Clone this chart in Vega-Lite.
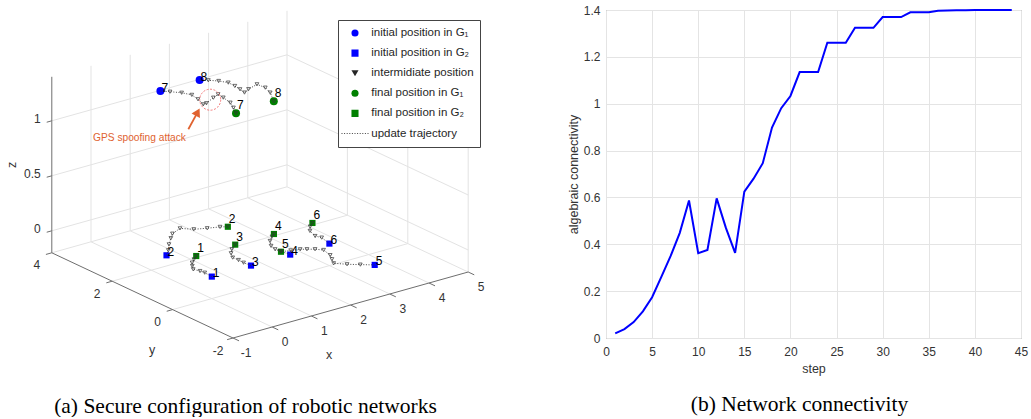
{
  "$schema": "https://vega.github.io/schema/vega-lite/v6.json",
  "padding": {"left": 0, "top": 3, "right": 0, "bottom": 0},
  "bounds": "flush",
  "spacing": 86,
  "config": {
    "font": "Liberation Sans",
    "axis": {"labelFont": "Liberation Sans", "titleFont": "Liberation Sans", "labelFontSize": 12, "titleFontSize": 12.5, "labelColor": "#333333", "titleColor": "#333333", "titleFontWeight": "normal", "gridColor": "#e4e4e4", "gridWidth": 1, "domain": false, "ticks": false, "labelFlush": false, "labelOverlap": false},
    "title": {"font": "Liberation Serif", "fontSize": 21.5, "fontWeight": "normal", "color": "#000000"},
    "legend": {"labelFont": "Liberation Sans", "labelFontSize": 11.5, "labelColor": "#262626", "cornerRadius": 0, "rowPadding": 6.1, "clipHeight": 14, "labelLimit": 200},
    "view": {"stroke": null}
  },
  "datasets": {
    "grid": [
      {"x1":0,"y1":-2,"z1":-0.2,"x2":0,"y2":4,"z2":-0.2,"k":"g"},
      {"x1":1,"y1":-2,"z1":-0.2,"x2":1,"y2":4,"z2":-0.2,"k":"g"},
      {"x1":2,"y1":-2,"z1":-0.2,"x2":2,"y2":4,"z2":-0.2,"k":"g"},
      {"x1":3,"y1":-2,"z1":-0.2,"x2":3,"y2":4,"z2":-0.2,"k":"g"},
      {"x1":4,"y1":-2,"z1":-0.2,"x2":4,"y2":4,"z2":-0.2,"k":"g"},
      {"x1":5,"y1":-2,"z1":-0.2,"x2":5,"y2":4,"z2":-0.2,"k":"g"},
      {"x1":-1,"y1":0,"z1":-0.2,"x2":5,"y2":0,"z2":-0.2,"k":"g"},
      {"x1":-1,"y1":2,"z1":-0.2,"x2":5,"y2":2,"z2":-0.2,"k":"g"},
      {"x1":-1,"y1":4,"z1":-0.2,"x2":5,"y2":4,"z2":-0.2,"k":"g"},
      {"x1":0,"y1":4,"z1":-0.2,"x2":0,"y2":4,"z2":1.4,"k":"g"},
      {"x1":1,"y1":4,"z1":-0.2,"x2":1,"y2":4,"z2":1.4,"k":"g"},
      {"x1":2,"y1":4,"z1":-0.2,"x2":2,"y2":4,"z2":1.4,"k":"g"},
      {"x1":3,"y1":4,"z1":-0.2,"x2":3,"y2":4,"z2":1.4,"k":"g"},
      {"x1":4,"y1":4,"z1":-0.2,"x2":4,"y2":4,"z2":1.4,"k":"g"},
      {"x1":5,"y1":4,"z1":-0.2,"x2":5,"y2":4,"z2":1.4,"k":"g"},
      {"x1":-1,"y1":4,"z1":0,"x2":5,"y2":4,"z2":0,"k":"g"},
      {"x1":-1,"y1":4,"z1":0.5,"x2":5,"y2":4,"z2":0.5,"k":"g"},
      {"x1":-1,"y1":4,"z1":1,"x2":5,"y2":4,"z2":1,"k":"g"},
      {"x1":5,"y1":-2,"z1":-0.2,"x2":5,"y2":-2,"z2":1.4,"k":"g"},
      {"x1":5,"y1":0,"z1":-0.2,"x2":5,"y2":0,"z2":1.4,"k":"g"},
      {"x1":5,"y1":2,"z1":-0.2,"x2":5,"y2":2,"z2":1.4,"k":"g"},
      {"x1":5,"y1":-2,"z1":0,"x2":5,"y2":4,"z2":0,"k":"g"},
      {"x1":5,"y1":-2,"z1":0.5,"x2":5,"y2":4,"z2":0.5,"k":"g"},
      {"x1":5,"y1":-2,"z1":1,"x2":5,"y2":4,"z2":1,"k":"g"},
      {"x1":-1,"y1":-2,"z1":-0.2,"x2":-1,"y2":4,"z2":-0.2,"k":"a"},
      {"x1":-1,"y1":-2,"z1":-0.2,"x2":5,"y2":-2,"z2":-0.2,"k":"a"},
      {"x1":-1,"y1":4,"z1":-0.2,"x2":-1,"y2":4,"z2":1.4,"k":"a"},
      {"x1":-1,"y1":-2,"z1":-0.2,"x2":-1,"y2":-2.2,"z2":-0.2,"k":"a"},
      {"x1":0,"y1":-2,"z1":-0.2,"x2":0,"y2":-2.2,"z2":-0.2,"k":"a"},
      {"x1":1,"y1":-2,"z1":-0.2,"x2":1,"y2":-2.2,"z2":-0.2,"k":"a"},
      {"x1":2,"y1":-2,"z1":-0.2,"x2":2,"y2":-2.2,"z2":-0.2,"k":"a"},
      {"x1":3,"y1":-2,"z1":-0.2,"x2":3,"y2":-2.2,"z2":-0.2,"k":"a"},
      {"x1":4,"y1":-2,"z1":-0.2,"x2":4,"y2":-2.2,"z2":-0.2,"k":"a"},
      {"x1":5,"y1":-2,"z1":-0.2,"x2":5,"y2":-2.2,"z2":-0.2,"k":"a"},
      {"x1":-1,"y1":-2,"z1":-0.2,"x2":-1.15,"y2":-2,"z2":-0.2,"k":"a"},
      {"x1":-1,"y1":0,"z1":-0.2,"x2":-1.15,"y2":0,"z2":-0.2,"k":"a"},
      {"x1":-1,"y1":2,"z1":-0.2,"x2":-1.15,"y2":2,"z2":-0.2,"k":"a"},
      {"x1":-1,"y1":4,"z1":-0.2,"x2":-1.15,"y2":4,"z2":-0.2,"k":"a"},
      {"x1":-1,"y1":4,"z1":0,"x2":-1.13,"y2":4,"z2":0,"k":"a"},
      {"x1":-1,"y1":4,"z1":0.5,"x2":-1.13,"y2":4,"z2":0.5,"k":"a"},
      {"x1":-1,"y1":4,"z1":1,"x2":-1.13,"y2":4,"z2":1,"k":"a"}
    ],
    "lab": [
      {"t":"-1","x":-1,"y":-2,"z":-0.2,"k":"xt"},
      {"t":"0","x":0,"y":-2,"z":-0.2,"k":"xt"},
      {"t":"1","x":1,"y":-2,"z":-0.2,"k":"xt"},
      {"t":"2","x":2,"y":-2,"z":-0.2,"k":"xt"},
      {"t":"3","x":3,"y":-2,"z":-0.2,"k":"xt"},
      {"t":"4","x":4,"y":-2,"z":-0.2,"k":"xt"},
      {"t":"5","x":5,"y":-2,"z":-0.2,"k":"xt"},
      {"t":"-2","x":-1,"y":-2,"z":-0.2,"k":"yt"},
      {"t":"0","x":-1,"y":0,"z":-0.2,"k":"yt"},
      {"t":"2","x":-1,"y":2,"z":-0.2,"k":"yt"},
      {"t":"4","x":-1,"y":4,"z":-0.2,"k":"yt"},
      {"t":"0","x":-1,"y":4,"z":0,"k":"zt"},
      {"t":"0.5","x":-1,"y":4,"z":0.5,"k":"zt"},
      {"t":"1","x":-1,"y":4,"z":1,"k":"zt"},
      {"t":"x","x":2,"y":-2,"z":-0.2,"k":"xl"},
      {"t":"y","x":-1,"y":1,"z":-0.2,"k":"yl"},
      {"t":"z","x":-1,"y":4,"z":0.6,"k":"zl"}
    ],
    "traj": [
      {"r":1,"g":"G2","s":0,"role":"initial","cat":"initial position in G₂","x":0,"y":0,"z":0},
      {"r":1,"g":"G2","s":1,"role":"mid","x":0.02,"y":0.26,"z":0},
      {"r":1,"g":"G2","s":2,"role":"mid","x":0,"y":0.39,"z":0},
      {"r":1,"g":"G2","s":3,"role":"mid","x":-0.05,"y":0.55,"z":0},
      {"r":1,"g":"G2","s":4,"role":"mid","x":0.05,"y":0.71,"z":0},
      {"r":1,"g":"G2","s":5,"role":"mid","x":0.16,"y":0.86,"z":0},
      {"r":1,"g":"G2","s":6,"role":"mid","x":0.3,"y":0.98,"z":0},
      {"r":1,"g":"G2","s":7,"role":"final","cat":"final position in G₂","x":0.45,"y":1.1,"z":0},
      {"r":2,"g":"G2","s":0,"role":"initial","cat":"initial position in G₂","x":0,"y":1.5,"z":0},
      {"r":2,"g":"G2","s":1,"role":"mid","x":0.2,"y":1.7,"z":0},
      {"r":2,"g":"G2","s":2,"role":"mid","x":0.41,"y":1.95,"z":0},
      {"r":2,"g":"G2","s":3,"role":"mid","x":0.65,"y":2.2,"z":0},
      {"r":2,"g":"G2","s":4,"role":"mid","x":0.83,"y":2.38,"z":0},
      {"r":2,"g":"G2","s":5,"role":"mid","x":1.13,"y":2.52,"z":0},
      {"r":2,"g":"G2","s":6,"role":"mid","x":1.32,"y":2.31,"z":0},
      {"r":2,"g":"G2","s":7,"role":"mid","x":1.57,"y":2.19,"z":0},
      {"r":2,"g":"G2","s":8,"role":"mid","x":1.82,"y":2.09,"z":0},
      {"r":2,"g":"G2","s":9,"role":"final","cat":"final position in G₂","x":1.95,"y":2.0,"z":0},
      {"r":3,"g":"G2","s":0,"role":"initial","cat":"initial position in G₂","x":1,"y":0,"z":0},
      {"r":3,"g":"G2","s":1,"role":"mid","x":0.98,"y":0.22,"z":0},
      {"r":3,"g":"G2","s":2,"role":"mid","x":0.99,"y":0.4,"z":0},
      {"r":3,"g":"G2","s":3,"role":"mid","x":0.98,"y":0.58,"z":0},
      {"r":3,"g":"G2","s":4,"role":"mid","x":1.1,"y":0.79,"z":0},
      {"r":3,"g":"G2","s":5,"role":"mid","x":1.25,"y":0.96,"z":0},
      {"r":3,"g":"G2","s":6,"role":"final","cat":"final position in G₂","x":1.46,"y":1.12,"z":0},
      {"r":4,"g":"G2","s":0,"role":"initial","cat":"initial position in G₂","x":2,"y":0,"z":0},
      {"r":4,"g":"G2","s":1,"role":"mid","x":1.96,"y":0.28,"z":0},
      {"r":4,"g":"G2","s":2,"role":"mid","x":1.94,"y":0.42,"z":0},
      {"r":4,"g":"G2","s":3,"role":"mid","x":1.99,"y":0.62,"z":0},
      {"r":4,"g":"G2","s":4,"role":"mid","x":2.14,"y":0.85,"z":0},
      {"r":4,"g":"G2","s":5,"role":"mid","x":2.32,"y":1.02,"z":0},
      {"r":4,"g":"G2","s":6,"role":"final","cat":"final position in G₂","x":2.44,"y":1.11,"z":0},
      {"r":5,"g":"G2","s":0,"role":"initial","cat":"initial position in G₂","x":3,"y":-1.5,"z":0},
      {"r":5,"g":"G2","s":1,"role":"mid","x":2.78,"y":-1.31,"z":0},
      {"r":5,"g":"G2","s":2,"role":"mid","x":2.58,"y":-1.13,"z":0},
      {"r":5,"g":"G2","s":3,"role":"mid","x":2.4,"y":-0.92,"z":0},
      {"r":5,"g":"G2","s":4,"role":"mid","x":2.51,"y":-0.72,"z":0},
      {"r":5,"g":"G2","s":5,"role":"mid","x":2.62,"y":-0.52,"z":0},
      {"r":5,"g":"G2","s":6,"role":"mid","x":2.69,"y":-0.21,"z":0},
      {"r":5,"g":"G2","s":7,"role":"mid","x":2.58,"y":-0.07,"z":0},
      {"r":5,"g":"G2","s":8,"role":"mid","x":2.45,"y":0.03,"z":0},
      {"r":5,"g":"G2","s":9,"role":"mid","x":2.34,"y":0.11,"z":0},
      {"r":5,"g":"G2","s":10,"role":"mid","x":2.15,"y":0.18,"z":0},
      {"r":5,"g":"G2","s":11,"role":"final","cat":"final position in G₂","x":1.95,"y":0.24,"z":0},
      {"r":6,"g":"G2","s":0,"role":"initial","cat":"initial position in G₂","x":3,"y":0,"z":0},
      {"r":6,"g":"G2","s":1,"role":"mid","x":3.08,"y":0.36,"z":0},
      {"r":6,"g":"G2","s":2,"role":"mid","x":3.03,"y":0.51,"z":0},
      {"r":6,"g":"G2","s":3,"role":"mid","x":3.12,"y":0.8,"z":0},
      {"r":6,"g":"G2","s":4,"role":"mid","x":3.27,"y":0.99,"z":0},
      {"r":6,"g":"G2","s":5,"role":"final","cat":"final position in G₂","x":3.43,"y":1.12,"z":0},
      {"r":7,"g":"G1","s":0,"role":"initial","cat":"initial position in G₁","x":1,"y":3,"z":1.2},
      {"r":7,"g":"G1","s":1,"role":"mid","x":1.13,"y":2.85,"z":1.2},
      {"r":7,"g":"G1","s":2,"role":"mid","x":1.28,"y":2.66,"z":1.2},
      {"r":7,"g":"G1","s":3,"role":"mid","x":1.37,"y":2.44,"z":1.2},
      {"r":7,"g":"G1","s":4,"role":"mid","x":1.32,"y":2.17,"z":1.2},
      {"r":7,"g":"G1","s":5,"role":"mid","x":1.23,"y":1.88,"z":1.2},
      {"r":7,"g":"G1","s":6,"role":"mid","x":1.32,"y":1.89,"z":1.2},
      {"r":7,"g":"G1","s":7,"role":"mid","x":1.62,"y":2.05,"z":1.2},
      {"r":7,"g":"G1","s":8,"role":"mid","x":1.81,"y":2.14,"z":1.2},
      {"r":7,"g":"G1","s":9,"role":"mid","x":1.78,"y":1.93,"z":1.2},
      {"r":7,"g":"G1","s":10,"role":"mid","x":1.72,"y":1.62,"z":1.2},
      {"r":7,"g":"G1","s":11,"role":"mid","x":1.6,"y":1.36,"z":1.2},
      {"r":7,"g":"G1","s":12,"role":"final","cat":"final position in G₁","x":1.45,"y":1.08,"z":1.2},
      {"r":8,"g":"G1","s":0,"role":"initial","cat":"initial position in G₁","x":2,"y":3,"z":1.2},
      {"r":8,"g":"G1","s":1,"role":"mid","x":2.13,"y":2.88,"z":1.2},
      {"r":8,"g":"G1","s":2,"role":"mid","x":2.27,"y":2.72,"z":1.2},
      {"r":8,"g":"G1","s":3,"role":"mid","x":2.37,"y":2.53,"z":1.2},
      {"r":8,"g":"G1","s":4,"role":"mid","x":2.36,"y":2.3,"z":1.2},
      {"r":8,"g":"G1","s":5,"role":"mid","x":2.33,"y":2.09,"z":1.2},
      {"r":8,"g":"G1","s":6,"role":"mid","x":2.29,"y":1.89,"z":1.2},
      {"r":8,"g":"G1","s":7,"role":"mid","x":2.47,"y":1.99,"z":1.2},
      {"r":8,"g":"G1","s":8,"role":"mid","x":2.77,"y":2.1,"z":1.2},
      {"r":8,"g":"G1","s":9,"role":"mid","x":2.79,"y":1.85,"z":1.2},
      {"r":8,"g":"G1","s":10,"role":"mid","x":2.7,"y":1.57,"z":1.2},
      {"r":8,"g":"G1","s":11,"role":"final","cat":"final position in G₁","x":2.46,"y":1.14,"z":1.2}
    ],
    "conn": [
      {"step":1,"v":0.02},{"step":2,"v":0.038},{"step":3,"v":0.068},{"step":4,"v":0.114},
      {"step":5,"v":0.174},{"step":6,"v":0.261},{"step":7,"v":0.349},{"step":8,"v":0.449},
      {"step":9,"v":0.587},{"step":10,"v":0.362},{"step":11,"v":0.376},{"step":12,"v":0.596},
      {"step":13,"v":0.47},{"step":14,"v":0.363},{"step":15,"v":0.625},{"step":16,"v":0.68},
      {"step":17,"v":0.746},{"step":18,"v":0.898},{"step":19,"v":0.981},{"step":20,"v":1.033},
      {"step":21,"v":1.135},{"step":22,"v":1.135},{"step":23,"v":1.135},{"step":24,"v":1.26},
      {"step":25,"v":1.26},{"step":26,"v":1.26},{"step":27,"v":1.324},{"step":28,"v":1.324},
      {"step":29,"v":1.324},{"step":30,"v":1.37},{"step":31,"v":1.37},{"step":32,"v":1.37},
      {"step":33,"v":1.39},{"step":34,"v":1.39},{"step":35,"v":1.39},{"step":36,"v":1.397},
      {"step":37,"v":1.398},{"step":38,"v":1.399},{"step":39,"v":1.399},{"step":40,"v":1.4},
      {"step":41,"v":1.4},{"step":42,"v":1.4},{"step":43,"v":1.4},{"step":44,"v":1.4}
    ]
  },
  "hconcat": [
    {
      "width": 520,
      "height": 328,
      "title": {"text": "(a) Secure configuration of robotic networks", "orient": "bottom", "anchor": "middle", "frame": "group", "offset": 34, "dx": -14.5},
      "layer": [
        {
          "data": {"name": "grid"},
          "transform": [
            {"filter": "datum.k === 'g'"},
            {"calculate": "233 + 39.2*(datum.x1+1) - 30.2*(datum.y1+2)", "as": "px"},
            {"calculate": "328 - 11*(datum.x1+1) - 14.2*(datum.y1+2) - 110*(datum.z1+0.2)", "as": "py"},
            {"calculate": "233 + 39.2*(datum.x2+1) - 30.2*(datum.y2+2)", "as": "px2"},
            {"calculate": "328 - 11*(datum.x2+1) - 14.2*(datum.y2+2) - 110*(datum.z2+0.2)", "as": "py2"}
          ],
          "mark": {"type": "rule", "color": "#e3e3e3", "strokeWidth": 1},
          "encoding": {
            "x": {"field": "px", "type": "quantitative", "scale": {"domain": [0, 520], "nice": false, "zero": false}, "axis": null},
            "y": {"field": "py", "type": "quantitative", "scale": {"domain": [0, 328], "nice": false, "zero": false, "reverse": true}, "axis": null},
            "x2": {"field": "px2"},
            "y2": {"field": "py2"}
          }
        },
        {
          "data": {"name": "grid"},
          "transform": [
            {"filter": "datum.k === 'a'"},
            {"calculate": "233 + 39.2*(datum.x1+1) - 30.2*(datum.y1+2)", "as": "px"},
            {"calculate": "328 - 11*(datum.x1+1) - 14.2*(datum.y1+2) - 110*(datum.z1+0.2)", "as": "py"},
            {"calculate": "233 + 39.2*(datum.x2+1) - 30.2*(datum.y2+2)", "as": "px2"},
            {"calculate": "328 - 11*(datum.x2+1) - 14.2*(datum.y2+2) - 110*(datum.z2+0.2)", "as": "py2"}
          ],
          "mark": {"type": "rule", "color": "#6e6e6e", "strokeWidth": 1},
          "encoding": {
            "x": {"field": "px", "type": "quantitative", "scale": {"domain": [0, 520], "nice": false, "zero": false}, "axis": null},
            "y": {"field": "py", "type": "quantitative", "scale": {"domain": [0, 328], "nice": false, "zero": false, "reverse": true}, "axis": null},
            "x2": {"field": "px2"},
            "y2": {"field": "py2"}
          }
        },
        {
          "data": {"name": "lab"},
          "transform": [
            {"filter": "datum.k === 'xt'"},
            {"calculate": "233 + 39.2*(datum.x+1) - 30.2*(datum.y+2)", "as": "px"},
            {"calculate": "328 - 11*(datum.x+1) - 14.2*(datum.y+2) - 110*(datum.z+0.2)", "as": "py"}
          ],
          "mark": {"type": "text", "dx": 13, "dy": 14.5, "align": "center", "baseline": "middle", "fontSize": 12, "color": "#333333"},
          "encoding": {
            "x": {"field": "px", "type": "quantitative", "scale": {"domain": [0, 520], "nice": false, "zero": false}, "axis": null},
            "y": {"field": "py", "type": "quantitative", "scale": {"domain": [0, 328], "nice": false, "zero": false, "reverse": true}, "axis": null},
            "text": {"field": "t", "type": "nominal"}
          }
        },
        {
          "data": {"name": "lab"},
          "transform": [
            {"filter": "datum.k === 'yt'"},
            {"calculate": "233 + 39.2*(datum.x+1) - 30.2*(datum.y+2)", "as": "px"},
            {"calculate": "328 - 11*(datum.x+1) - 14.2*(datum.y+2) - 110*(datum.z+0.2)", "as": "py"}
          ],
          "mark": {"type": "text", "dx": -15, "dy": 12.5, "align": "center", "baseline": "middle", "fontSize": 12, "color": "#333333"},
          "encoding": {
            "x": {"field": "px", "type": "quantitative", "scale": {"domain": [0, 520], "nice": false, "zero": false}, "axis": null},
            "y": {"field": "py", "type": "quantitative", "scale": {"domain": [0, 328], "nice": false, "zero": false, "reverse": true}, "axis": null},
            "text": {"field": "t", "type": "nominal"}
          }
        },
        {
          "data": {"name": "lab"},
          "transform": [
            {"filter": "datum.k === 'zt'"},
            {"calculate": "233 + 39.2*(datum.x+1) - 30.2*(datum.y+2)", "as": "px"},
            {"calculate": "328 - 11*(datum.x+1) - 14.2*(datum.y+2) - 110*(datum.z+0.2)", "as": "py"}
          ],
          "mark": {"type": "text", "dx": -11, "dy": -1.5, "align": "right", "baseline": "middle", "fontSize": 12, "color": "#333333"},
          "encoding": {
            "x": {"field": "px", "type": "quantitative", "scale": {"domain": [0, 520], "nice": false, "zero": false}, "axis": null},
            "y": {"field": "py", "type": "quantitative", "scale": {"domain": [0, 328], "nice": false, "zero": false, "reverse": true}, "axis": null},
            "text": {"field": "t", "type": "nominal"}
          }
        },
        {
          "data": {"name": "lab"},
          "transform": [
            {"filter": "datum.k === 'xl'"},
            {"calculate": "233 + 39.2*(datum.x+1) - 30.2*(datum.y+2)", "as": "px"},
            {"calculate": "328 - 11*(datum.x+1) - 14.2*(datum.y+2) - 110*(datum.z+0.2)", "as": "py"}
          ],
          "mark": {"type": "text", "dx": -21.5, "dy": 50, "align": "center", "baseline": "middle", "fontSize": 12.5, "color": "#333333"},
          "encoding": {
            "x": {"field": "px", "type": "quantitative", "scale": {"domain": [0, 520], "nice": false, "zero": false}, "axis": null},
            "y": {"field": "py", "type": "quantitative", "scale": {"domain": [0, 328], "nice": false, "zero": false, "reverse": true}, "axis": null},
            "text": {"field": "t", "type": "nominal"}
          }
        },
        {
          "data": {"name": "lab"},
          "transform": [
            {"filter": "datum.k === 'yl'"},
            {"calculate": "233 + 39.2*(datum.x+1) - 30.2*(datum.y+2)", "as": "px"},
            {"calculate": "328 - 11*(datum.x+1) - 14.2*(datum.y+2) - 110*(datum.z+0.2)", "as": "py"}
          ],
          "mark": {"type": "text", "dx": 9.6, "dy": 55, "align": "center", "baseline": "middle", "fontSize": 12.5, "color": "#333333"},
          "encoding": {
            "x": {"field": "px", "type": "quantitative", "scale": {"domain": [0, 520], "nice": false, "zero": false}, "axis": null},
            "y": {"field": "py", "type": "quantitative", "scale": {"domain": [0, 328], "nice": false, "zero": false, "reverse": true}, "axis": null},
            "text": {"field": "t", "type": "nominal"}
          }
        },
        {
          "data": {"name": "lab"},
          "transform": [
            {"filter": "datum.k === 'zl'"},
            {"calculate": "233 + 39.2*(datum.x+1) - 30.2*(datum.y+2)", "as": "px"},
            {"calculate": "328 - 11*(datum.x+1) - 14.2*(datum.y+2) - 110*(datum.z+0.2)", "as": "py"}
          ],
          "mark": {"type": "text", "dx": 0, "dy": -40, "angle": 270, "align": "center", "baseline": "middle", "fontSize": 12.5, "color": "#333333"},
          "encoding": {
            "x": {"field": "px", "type": "quantitative", "scale": {"domain": [0, 520], "nice": false, "zero": false}, "axis": null},
            "y": {"field": "py", "type": "quantitative", "scale": {"domain": [0, 328], "nice": false, "zero": false, "reverse": true}, "axis": null},
            "text": {"field": "t", "type": "nominal"}
          }
        },
        {
          "data": {"name": "traj"},
          "transform": [
            {"filter": "datum.role !== 'mid'"},
            {"calculate": "233 + 39.2*(datum.x+1) - 30.2*(datum.y+2)", "as": "px"},
            {"calculate": "328 - 11*(datum.x+1) - 14.2*(datum.y+2) - 110*(datum.z+0.2)", "as": "py"}
          ],
          "mark": {"type": "point", "filled": true, "opacity": 1},
          "encoding": {
            "x": {"field": "px", "type": "quantitative", "scale": {"domain": [0, 520], "nice": false, "zero": false}, "axis": null},
            "y": {"field": "py", "type": "quantitative", "scale": {"domain": [0, 328], "nice": false, "zero": false, "reverse": true}, "axis": null},
            "color": {
              "field": "cat", "type": "nominal",
              "scale": {"domain": ["initial position in G₁", "initial position in G₂", "intermidiate position", "final position in G₁", "final position in G₂", "update trajectory"], "range": ["#0000ff", "#0000ff", "#262626", "#008000", "#008000", "#262626"]},
              "legend": {"title": null, "orient": "none", "legendX": 338, "legendY": 10, "symbolSize": 50, "symbolOffset": 5.25, "labelOffset": 10.5, "padding": 6, "strokeColor": "#444444", "fillColor": "#ffffff"}
            },
            "shape": {
              "field": "cat", "type": "nominal",
              "scale": {"domain": ["initial position in G₁", "initial position in G₂", "intermidiate position", "final position in G₁", "final position in G₂", "update trajectory"], "range": ["circle", "square", "triangle-down", "circle", "square", "stroke"]}
            },
            "size": {"condition": {"test": "datum.g === 'G1'", "value": 64}, "value": 38}
          }
        },
        {
          "data": {"name": "traj"},
          "transform": [
            {"calculate": "233 + 39.2*(datum.x+1) - 30.2*(datum.y+2)", "as": "px"},
            {"calculate": "328 - 11*(datum.x+1) - 14.2*(datum.y+2) - 110*(datum.z+0.2)", "as": "py"}
          ],
          "mark": {"type": "line", "color": "#333333", "strokeWidth": 0.9},
          "encoding": {
            "x": {"field": "px", "type": "quantitative", "scale": {"domain": [0, 520], "nice": false, "zero": false}, "axis": null},
            "y": {"field": "py", "type": "quantitative", "scale": {"domain": [0, 328], "nice": false, "zero": false, "reverse": true}, "axis": null},
            "detail": {"field": "r", "type": "nominal"},
            "order": {"field": "s", "type": "quantitative"},
            "strokeDash": {
              "datum": "update trajectory", "type": "nominal",
              "scale": {"domain": ["update trajectory"], "range": [[1, 1.6]]},
              "legend": {"title": null, "orient": "none", "legendX": 341, "legendY": 116.5, "padding": 0, "strokeColor": "transparent", "fillColor": "transparent", "labelExpr": "''", "symbolSize": 729, "symbolOffset": 0, "labelOffset": 0, "symbolStrokeWidth": 1, "symbolStrokeColor": "#444444"}
            }
          }
        },
        {
          "data": {"name": "traj"},
          "transform": [
            {"filter": "datum.role !== 'initial'"},
            {"calculate": "233 + 39.2*(datum.x+1) - 30.2*(datum.y+2)", "as": "px"},
            {"calculate": "328 - 11*(datum.x+1) - 14.2*(datum.y+2) - 110*(datum.z+0.2)", "as": "py"}
          ],
          "mark": {"type": "point", "shape": "triangle-down", "size": 14, "filled": false, "stroke": "#333333", "strokeWidth": 0.7, "opacity": 1},
          "encoding": {
            "x": {"field": "px", "type": "quantitative", "scale": {"domain": [0, 520], "nice": false, "zero": false}, "axis": null},
            "y": {"field": "py", "type": "quantitative", "scale": {"domain": [0, 328], "nice": false, "zero": false, "reverse": true}, "axis": null}
          }
        },
        {
          "data": {"name": "traj"},
          "transform": [
            {"filter": "datum.role === 'initial'"},
            {"calculate": "233 + 39.2*(datum.x+1) - 30.2*(datum.y+2)", "as": "px"},
            {"calculate": "328 - 11*(datum.x+1) - 14.2*(datum.y+2) - 110*(datum.z+0.2)", "as": "py"}
          ],
          "mark": {"type": "text", "dx": 1, "dy": -3.5, "align": "left", "baseline": "middle", "fontSize": 12, "color": "#000000"},
          "encoding": {
            "x": {"field": "px", "type": "quantitative", "scale": {"domain": [0, 520], "nice": false, "zero": false}, "axis": null},
            "y": {"field": "py", "type": "quantitative", "scale": {"domain": [0, 328], "nice": false, "zero": false, "reverse": true}, "axis": null},
            "text": {"field": "r", "type": "nominal"}
          }
        },
        {
          "data": {"name": "traj"},
          "transform": [
            {"filter": "datum.role === 'final'"},
            {"calculate": "233 + 39.2*(datum.x+1) - 30.2*(datum.y+2)", "as": "px"},
            {"calculate": "328 - 11*(datum.x+1) - 14.2*(datum.y+2) - 110*(datum.z+0.2)", "as": "py"}
          ],
          "mark": {"type": "text", "dx": 1, "dy": -8, "align": "left", "baseline": "middle", "fontSize": 12, "color": "#000000"},
          "encoding": {
            "x": {"field": "px", "type": "quantitative", "scale": {"domain": [0, 520], "nice": false, "zero": false}, "axis": null},
            "y": {"field": "py", "type": "quantitative", "scale": {"domain": [0, 328], "nice": false, "zero": false, "reverse": true}, "axis": null},
            "text": {"field": "r", "type": "nominal"}
          }
        },
        {
          "data": {"values": [{"x": 1.5, "y": 2.0, "z": 1.2}]},
          "transform": [
            {"calculate": "233 + 39.2*(datum.x+1) - 30.2*(datum.y+2)", "as": "px"},
            {"calculate": "328 - 11*(datum.x+1) - 14.2*(datum.y+2) - 110*(datum.z+0.2)", "as": "py"}
          ],
          "mark": {"type": "point", "shape": "circle", "size": 441, "filled": false, "stroke": "#f06a6a", "strokeWidth": 0.9, "strokeDash": [2, 1.5], "opacity": 1},
          "encoding": {
            "x": {"field": "px", "type": "quantitative", "scale": {"domain": [0, 520], "nice": false, "zero": false}, "axis": null},
            "y": {"field": "py", "type": "quantitative", "scale": {"domain": [0, 328], "nice": false, "zero": false, "reverse": true}, "axis": null}
          }
        },
        {
          "data": {"values": [{"x1": 0.145, "y1": 0.965, "z1": 1.2, "x2": 0.879, "y2": 1.609, "z2": 1.2}]},
          "transform": [
            {"calculate": "233 + 39.2*(datum.x1+1) - 30.2*(datum.y1+2)", "as": "px"},
            {"calculate": "328 - 11*(datum.x1+1) - 14.2*(datum.y1+2) - 110*(datum.z1+0.2)", "as": "py"},
            {"calculate": "233 + 39.2*(datum.x2+1) - 30.2*(datum.y2+2)", "as": "px2"},
            {"calculate": "328 - 11*(datum.x2+1) - 14.2*(datum.y2+2) - 110*(datum.z2+0.2)", "as": "py2"}
          ],
          "mark": {"type": "rule", "color": "#e0622f", "strokeWidth": 1.8},
          "encoding": {
            "x": {"field": "px", "type": "quantitative", "scale": {"domain": [0, 520], "nice": false, "zero": false}, "axis": null},
            "y": {"field": "py", "type": "quantitative", "scale": {"domain": [0, 328], "nice": false, "zero": false, "reverse": true}, "axis": null},
            "x2": {"field": "px2"},
            "y2": {"field": "py2"}
          }
        },
        {
          "data": {"values": [{"x": 0.879, "y": 1.609, "z": 1.2}]},
          "transform": [
            {"calculate": "233 + 39.2*(datum.x+1) - 30.2*(datum.y+2)", "as": "px"},
            {"calculate": "328 - 11*(datum.x+1) - 14.2*(datum.y+2) - 110*(datum.z+0.2)", "as": "py"}
          ],
          "mark": {"type": "point", "shape": "triangle-up", "angle": 28, "size": 90, "filled": true, "color": "#e0622f", "opacity": 1},
          "encoding": {
            "x": {"field": "px", "type": "quantitative", "scale": {"domain": [0, 520], "nice": false, "zero": false}, "axis": null},
            "y": {"field": "py", "type": "quantitative", "scale": {"domain": [0, 328], "nice": false, "zero": false, "reverse": true}, "axis": null}
          }
        },
        {
          "data": {"values": [{"t": "GPS spoofing attack", "x": -0.92, "y": 1.2, "z": 1.2}]},
          "transform": [
            {"calculate": "233 + 39.2*(datum.x+1) - 30.2*(datum.y+2)", "as": "px"},
            {"calculate": "328 - 11*(datum.x+1) - 14.2*(datum.y+2) - 110*(datum.z+0.2)", "as": "py"}
          ],
          "mark": {"type": "text", "align": "center", "baseline": "middle", "fontSize": 10.2, "color": "#e0622f"},
          "encoding": {
            "x": {"field": "px", "type": "quantitative", "scale": {"domain": [0, 520], "nice": false, "zero": false}, "axis": null},
            "y": {"field": "py", "type": "quantitative", "scale": {"domain": [0, 328], "nice": false, "zero": false, "reverse": true}, "axis": null},
            "text": {"field": "t", "type": "nominal"}
          }
        }
      ]
    },
    {
      "width": 415,
      "height": 328,
      "view": {"stroke": "#808080", "strokeWidth": 1},
      "title": {"text": "(b) Network connectivity", "orient": "bottom", "anchor": "middle", "frame": "group", "offset": 19, "dx": -14},
      "data": {"name": "conn"},
      "mark": {"type": "line", "color": "#0000ff", "strokeWidth": 2},
      "encoding": {
        "x": {"field": "step", "type": "quantitative", "scale": {"domain": [0, 45], "nice": false, "zero": false}, "axis": {"title": "step", "values": [0, 5, 10, 15, 20, 25, 30, 35, 40, 45], "labelPadding": 8, "titlePadding": 5}},
        "y": {"field": "v", "type": "quantitative", "scale": {"domain": [0, 1.4], "nice": false, "zero": false}, "axis": {"title": "algebraic connectivity", "values": [0, 0.2, 0.4, 0.6, 0.8, 1, 1.2, 1.4], "format": "~g", "labelPadding": 6, "titlePadding": 3}}
      }
    }
  ]
}
